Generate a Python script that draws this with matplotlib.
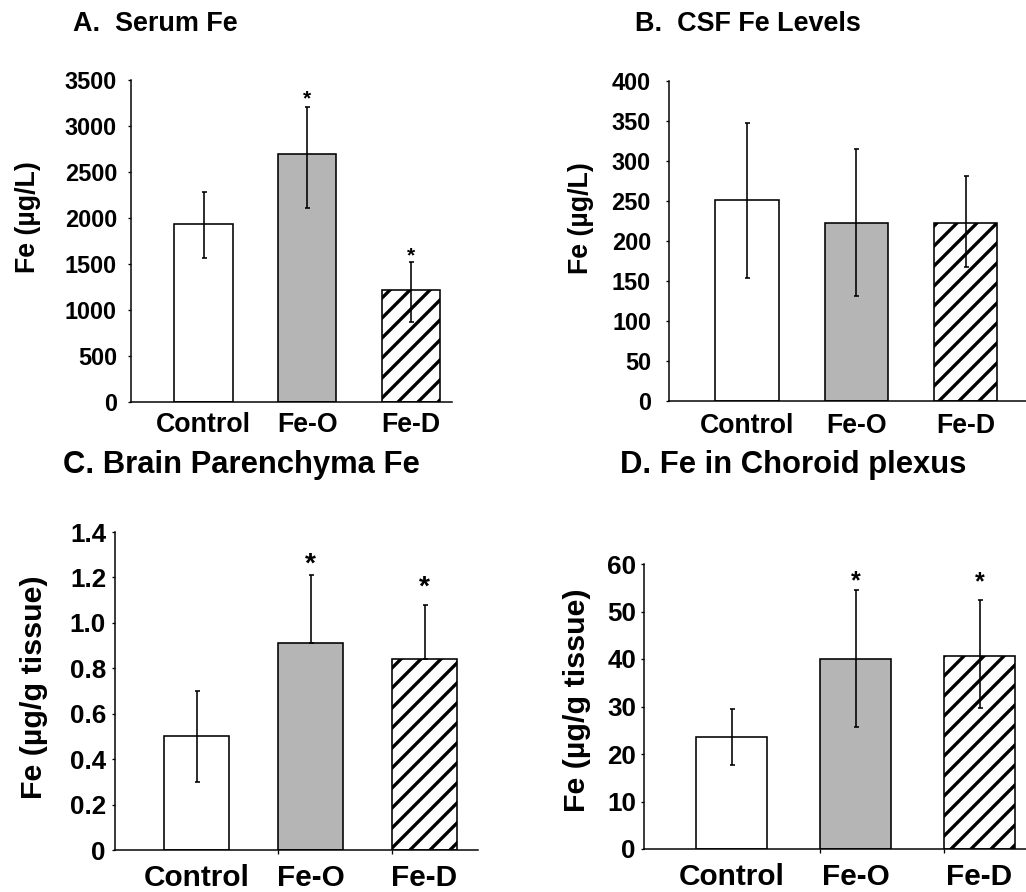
"""
Fe levels in serum, CSF, brain parenchyma and choroid plexus
4-panel bar figure (Control / Fe-O / Fe-D)
"""

import matplotlib
matplotlib.use('Agg')
import matplotlib.pyplot as plt

plt.rcParams['font.family'] = ['Liberation Sans', 'DejaVu Sans']
plt.rcParams['font.weight'] = 'bold'
plt.rcParams['hatch.linewidth'] = 2.0

DPI = 120
W, H = 1026, 892


def pt(px):
    # pixel size -> points at this dpi
    return px * 72.0 / DPI


# ----- data -----
groups = ['Control', 'Fe-O', 'Fe-D']

serum_mean = [1935, 2696, 1217]
serum_hi = [2286, 3210, 1519]
serum_lo = [1565, 2105, 873]
serum_sig = [False, True, True]

csf_mean = [251, 223, 223]
csf_hi = [347, 315, 281]
csf_lo = [154, 131, 168]
csf_sig = [False, False, False]

brain_mean = [0.50, 0.91, 0.84]
brain_hi = [0.70, 1.21, 1.08]
brain_lo = [0.30, 0.91, 0.84]  # treated groups: only upper bar drawn
brain_sig = [False, True, True]

plexus_mean = [23.6, 40.1, 40.7]
plexus_hi = [29.4, 54.5, 52.5]
plexus_lo = [17.7, 25.6, 29.6]
plexus_sig = [False, True, True]

serum_ticks = [0, 500, 1000, 1500, 2000, 2500, 3000, 3500]
csf_ticks = [0, 50, 100, 150, 200, 250, 300, 350, 400]
brain_ticks = [0, 0.2, 0.4, 0.6, 0.8, 1.0, 1.2, 1.4]
brain_labels = ['0', '0.2', '0.4', '0.6', '0.8', '1.0', '1.2', '1.4']
plexus_ticks = [0, 10, 20, 30, 40, 50, 60]

# bar styles
faces = ['white', '#b5b5b5', 'white']
hatches = [None, None, '//']

fig = plt.figure(figsize=(W / DPI, H / DPI), dpi=DPI)


def add_ax(left, right, top, bottom):
    return fig.add_axes([left / W, 1 - bottom / H, (right - left) / W, (bottom - top) / H])


def panel(ax, mean, hi, lo, sig, ticks, labels, xlim, width,
          fs_tick, fs_x, fs_star, pad_y, pad_x, star_off, edge_ticks=False):
    x = range(len(groups))
    for i in x:
        ax.bar(i, mean[i], width=width, color=faces[i], edgecolor='black',
               linewidth=pt(1.6), hatch=hatches[i], zorder=2)
    yerr = [[m - l for m, l in zip(mean, lo)], [h - m for m, h in zip(mean, hi)]]
    ax.errorbar(list(x), mean, yerr=yerr, fmt='none', ecolor='black',
                elinewidth=pt(1.6), capsize=pt(2.5), capthick=pt(1.6), zorder=3)
    for i in x:
        if sig[i]:
            ax.annotate('*', xy=(i, hi[i]), xytext=(0, star_off[i]),
                        textcoords='offset pixels', ha='center', va='baseline',
                        fontsize=pt(fs_star), fontweight='bold')

    ax.set_xlim(*xlim)
    ax.set_ylim(ticks[0], ticks[-1])
    ax.set_yticks(ticks)
    ax.set_yticklabels(labels if labels else [str(t) for t in ticks])
    ax.set_xticks(list(x))
    ax.set_xticklabels(groups)
    for s in ['top', 'right']:
        ax.spines[s].set_visible(False)
    for s in ['left', 'bottom']:
        ax.spines[s].set_linewidth(pt(1.5))
    ax.tick_params(axis='y', length=pt(3), width=pt(1.3), pad=pt(pad_y),
                   labelsize=pt(fs_tick))
    ax.tick_params(axis='x', which='major', length=0, pad=pt(pad_x),
                   labelsize=pt(fs_x))
    if edge_ticks:
        ax.set_xticks([i - width / 2 for i in (1, 2)], minor=True)
        ax.tick_params(axis='x', which='minor', length=pt(4), width=pt(1.3))
    for lab in ax.get_xticklabels() + ax.get_yticklabels():
        lab.set_fontweight('bold')


# A. Serum
axA = add_ax(131, 452, 80, 402)
panel(axA, serum_mean, serum_hi, serum_lo, serum_sig, serum_ticks, None,
      (-0.699, 2.395), 0.56, 23.5, 26.8, 21, 11, 10, [0, 2, 1])

# B. CSF
axB = add_ax(669, 1030, 81, 401)
panel(axB, csf_mean, csf_hi, csf_lo, csf_sig, csf_ticks, None,
      (-0.714, 2.59), 0.577, 23.5, 26.6, 21, 15, 12, [0, 0, 0])

# C. Brain parenchyma
axC = add_ax(115, 478, 532, 850)
panel(axC, brain_mean, brain_hi, brain_lo, brain_sig, brain_ticks, brain_labels,
      (-0.715, 2.469), 0.57, 26, 29.8, 28, 6, 14, [0, 4, 10], edge_ticks=True)

# D. Choroid plexus
axD = add_ax(644, 1030, 564, 849)
panel(axD, plexus_mean, plexus_hi, plexus_lo, plexus_sig, plexus_ticks, None,
      (-0.706, 2.407), 0.573, 26, 29.8, 25, 5, 14, [0, 2, 10], edge_ticks=True)


def ftext(x, y, s, size, **kw):
    fig.text(x / W, 1 - y / H, s, fontsize=pt(size), fontweight='bold', **kw)


# panel titles (left edge, baseline)
ftext(73, 30.7, 'A.  Serum Fe', 27, ha='left', va='baseline')
ftext(635, 30.7, 'B.  CSF Fe Levels', 27, ha='left', va='baseline')
ftext(63, 472.7, 'C. Brain Parenchyma Fe', 31, ha='left', va='baseline')
ftext(620, 473.3, 'D. Fe in Choroid plexus', 31, ha='left', va='baseline')

# y labels
ftext(28, 217, 'Fe (µg/L)', 26.8, ha='center', va='center', rotation=90)
ftext(580.5, 218, 'Fe (µg/L)', 26.8, ha='center', va='center', rotation=90)
ftext(34, 687, 'Fe (µg/g tissue)', 30.4, ha='center', va='center', rotation=90)
ftext(577, 700, 'Fe (µg/g tissue)', 30.4, ha='center', va='center', rotation=90)

fig.savefig('out.png', dpi=DPI)
